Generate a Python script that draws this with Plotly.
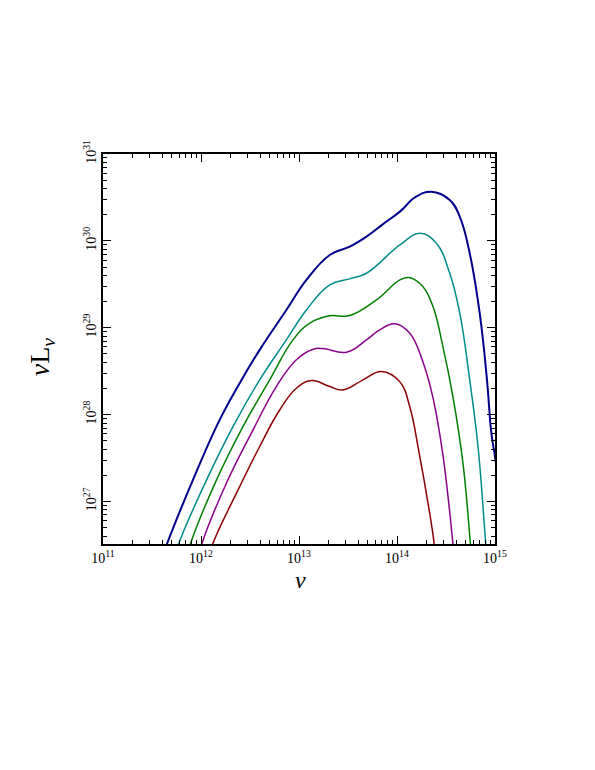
import plotly.graph_objects as go

# frequency (Hz) and nu*L_nu values, one pair of lists per curve
nu_blue = [4.2e11, 4.50e11, 8.28e11, 1.55e12, 2.48e12, 3.97e12, 7.43e12, 1.19e13, 2.06e13, 3.29e13,
           4.88e13, 7.15e13, 1.07e14, 1.55e14, 2.24e14, 3.45e14, 4.37e14, 5.52e14, 6.98e14, 8.28e14,
           9.18e14, 1.0e15, 1.07e15]
L_blue = [2.6e26, 3.25e26, 1.77e27, 8.69e27, 2.30e28, 5.56e28, 1.60e29, 3.55e29, 6.88e29, 8.57e29,
          1.12e30, 1.55e30, 2.17e30, 3.2e30, 3.68e30, 2.96e30, 1.90e30, 7.19e29, 1.47e29, 2.51e28,
          6.11e27, 3.29e27, 1.9e27]

nu_cyan = [5.6e11, 5.92e11, 1.14e12, 2.12e12, 3.97e12, 7.43e12, 1.19e13, 2.06e13, 3.29e13, 4.88e13,
           1.07e14, 1.73e14, 2.52e14, 3.45e14, 4.37e14, 5.52e14, 6.71e14, 8.04e14, 8.3e14]
L_cyan = [2.6e26, 3.25e26, 1.77e27, 7.28e27, 2.51e28, 7.24e28, 1.60e29, 3.11e29, 3.65e29, 4.24e29,
          8.98e29, 1.22e30, 9.38e29, 4.24e29, 1.47e29, 2.51e28, 4.29e27, 3.3e26, 2.2e26]

nu_green = [7.4e11, 7.80e11, 1.44e12, 2.68e12, 5.02e12, 8.69e12, 1.29e13, 2.06e13, 3.29e13, 6.17e13,
            1.07e14, 1.33e14, 1.84e14, 2.33e14, 2.94e14, 3.72e14, 4.71e14, 5.61e14, 5.8e14]
L_green = [2.6e26, 3.25e26, 1.77e27, 7.28e27, 2.51e28, 7.24e28, 1.13e29, 1.37e29, 1.38e29, 2.09e29,
           3.55e29, 3.78e29, 2.97e29, 1.75e29, 6.07e28, 1.61e28, 2.76e27, 3.3e26, 2.2e26]

nu_purple = [9.7e11, 1.02e12, 1.82e12, 3.40e12, 5.87e12, 9.40e12, 1.39e13, 1.76e13, 3.05e13, 4.88e13,
             6.65e13, 9.49e13, 1.35e14, 1.84e14, 2.33e14, 2.94e14, 3.72e14, 3.85e14]
L_purple = [2.6e26, 3.25e26, 1.63e27, 6.67e27, 2.10e28, 4.27e28, 5.66e28, 5.75e28, 5.22e28, 7.24e28,
            9.44e28, 1.11e29, 8.65e28, 4.04e28, 1.56e28, 3.44e27, 3.3e26, 2.2e26]

nu_red = [1.26e12, 1.32e12, 2.48e12, 3.97e12, 6.35e12, 9.40e12, 1.34e13, 2.06e13, 2.81e13, 4.50e13,
          6.93e13, 1.07e14, 1.35e14, 1.66e14, 2.10e14, 2.39e14, 2.45e14]
L_red = [2.6e26, 3.25e26, 1.48e27, 4.29e27, 1.13e28, 2.01e28, 2.46e28, 2.10e28, 1.92e28, 2.51e28,
         3.13e28, 2.38e28, 1.23e28, 3.93e27, 8.73e26, 3.3e26, 2.2e26]

x_ticks = [1e11, 1e12, 1e13, 1e14, 1e15]
x_ticktext = ['10<sup>11</sup>', '10<sup>12</sup>', '10<sup>13</sup>', '10<sup>14</sup>', '10<sup>15</sup>']
y_ticks = [1e27, 1e28, 1e29, 1e30, 1e31]
y_ticktext = ['10<sup>27</sup>', '10<sup>28</sup>', '10<sup>29</sup>', '10<sup>30</sup>', '10<sup>31</sup>']

curves = [
    (nu_blue, L_blue, '#00008C', 2.0),
    (nu_cyan, L_cyan, '#008B8B', 1.5),
    (nu_green, L_green, '#008000', 1.5),
    (nu_purple, L_purple, '#8B008B', 1.5),
    (nu_red, L_red, '#8B0000', 1.5),
]

fig = go.Figure()
for nu, L, color, width in curves:
    fig.add_trace(go.Scatter(
        x=nu, y=L, mode='lines',
        line=dict(color=color, width=width, shape='spline', smoothing=1.2),
        showlegend=False, hoverinfo='skip'
    ))

axis_common = dict(
    type='log', showgrid=False, zeroline=False, automargin=False,
    showline=True, linecolor='black', linewidth=1.5, mirror='allticks',
    ticks='inside', ticklen=8, tickwidth=1, tickcolor='black',
    minor=dict(ticks='inside', ticklen=4, tickwidth=1, tickcolor='black', dtick='D1', showgrid=False),
    tickfont=dict(family='Liberation Serif', size=14, color='black'),
)

fig.update_xaxes(**axis_common, range=[11, 15],
                 tickmode='array', tickvals=x_ticks, ticktext=x_ticktext)
fig.update_yaxes(**axis_common, range=[26.51, 31],
                 tickmode='array', tickvals=y_ticks, ticktext=y_ticktext, tickangle=-90)

fig.add_annotation(text='<i>ν</i>', xref='paper', yref='paper', x=0.503, y=-0.092,
                   xanchor='center', yanchor='middle', showarrow=False,
                   font=dict(family='Liberation Serif', size=24, color='black'))
fig.add_annotation(text='<i>ν</i>L<sub><i>ν</i></sub>', xref='paper', yref='paper',
                   x=-0.158, y=0.479, xanchor='center', yanchor='middle',
                   textangle=-90, showarrow=False,
                   font=dict(family='Liberation Serif', size=28, color='black'))

# the page body adds an 8px offset, so margins are shifted to keep the frame in place
fig.update_layout(
    width=595, height=770,
    margin=dict(l=95, r=108, t=146, b=234),
    plot_bgcolor='white', paper_bgcolor='white',
    showlegend=False,
)

fig.write_html("out.html")
